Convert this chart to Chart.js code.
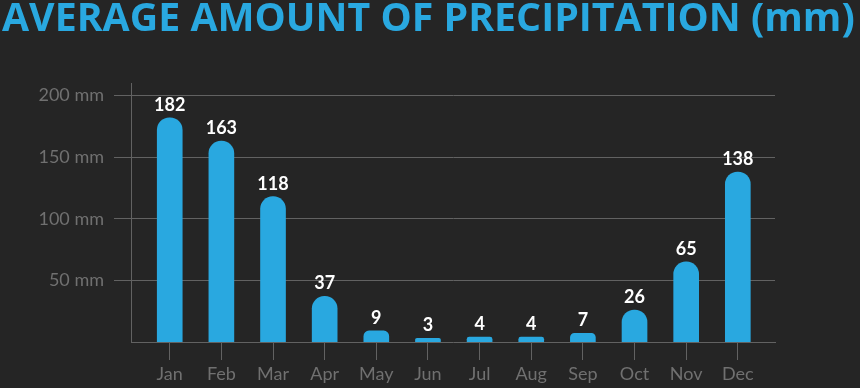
<!DOCTYPE html>
<html>
<head>
<meta charset="utf-8">
<script src="https://cdn.jsdelivr.net/npm/chart.js@4"></script>
<style>
  html, body { margin: 0; padding: 0; background: #252525; }
  #wrap { width: 860px; height: 388px; position: relative; }
</style>
</head>
<body>
<div id="wrap"><canvas id="grafico"></canvas></div>
<script>
// dados
const meses = ['Jan', 'Feb', 'Mar', 'Apr', 'May', 'Jun', 'Jul', 'Aug', 'Sep', 'Oct', 'Nov', 'Dec'];
const precipitacao = [182, 163, 118, 37, 9, 3, 4, 4, 7, 26, 65, 138];
const ticksY = [50, 100, 150, 200];
const titulo = 'AVERAGE AMOUNT OF PRECIPITATION (mm)';

const azul = '#29a8e0';
const cinza = '#626262';
const cinzaTexto = '#707070';

// rótulos de valor acima das barras
const rotulosPlugin = {
    id: 'rotulos',
    afterDatasetsDraw(chart) {
        const ctx = chart.ctx;
        const meta = chart.getDatasetMeta(0);
        ctx.save();
        ctx.fillStyle = '#ffffff';
        ctx.font = 'bold 18px Lato';
        ctx.textAlign = 'center';
        ctx.textBaseline = 'alphabetic';
        meta.data.forEach((bar, i) => {
            ctx.fillText(String(precipitacao[i]), bar.x, bar.y - 7);
        });
        ctx.restore();
    }
};

const ctx = document.getElementById('grafico').getContext('2d');
const grafico = new Chart(ctx, {
    type: 'bar',
    data: {
        datasets: [{
            data: precipitacao.map((v, i) => ({ x: i, y: v })),
            backgroundColor: azul,
            barThickness: 25,
            borderRadius: { topLeft: 13, topRight: 13 },
            borderSkipped: 'bottom'
        }]
    },
    options: {
        responsive: true,
        maintainAspectRatio: false,
        animation: false,
        layout: {
            padding: { left: 2, right: 0, top: 0, bottom: 0 }
        },
        plugins: {
            legend: { display: false },
            tooltip: { enabled: false },
            title: {
                display: true,
                text: titulo,
                align: 'start',
                color: azul,
                font: { family: 'Open Sans', weight: 'bold', size: 39.3, lineHeight: 1 },
                padding: { top: 0, bottom: 44 }
            }
        },
        scales: {
            x: {
                type: 'linear',
                offset: false,
                min: -0.75,
                max: 11.72,
                afterBuildTicks: (s) => { s.ticks = meses.map((m, i) => ({ value: i })); },
                afterFit: (s) => { s.height = 46; },
                ticks: {
                    callback: (v) => meses[v],
                    color: cinzaTexto,
                    font: { family: 'Lato', size: 18 },
                    padding: 3,
                    maxRotation: 0,
                    autoSkip: false
                },
                grid: {
                    offset: false,
                    drawOnChartArea: false,
                    drawTicks: true,
                    tickLength: 18,
                    color: cinza
                },
                border: { display: true, color: cinza }
            },
            y: {
                min: 0,
                max: 210,
                afterBuildTicks: (s) => { s.ticks = ticksY.map(v => ({ value: v })); },
                afterFit: (s) => { s.width = 129; },
                ticks: {
                    callback: (v) => v + ' mm',
                    color: cinzaTexto,
                    font: { family: 'Lato', size: 18 },
                    padding: 10
                },
                grid: {
                    color: cinza,
                    tickLength: 17
                },
                border: { display: true, color: cinza }
            },
            // eixo vazio à direita, só para reservar a margem
            margem: {
                position: 'right',
                afterFit: (s) => { s.width = 85; },
                ticks: { display: false },
                grid: { display: false },
                border: { display: false }
            }
        }
    },
    plugins: [rotulosPlugin]
});
</script>
</body>
</html>
